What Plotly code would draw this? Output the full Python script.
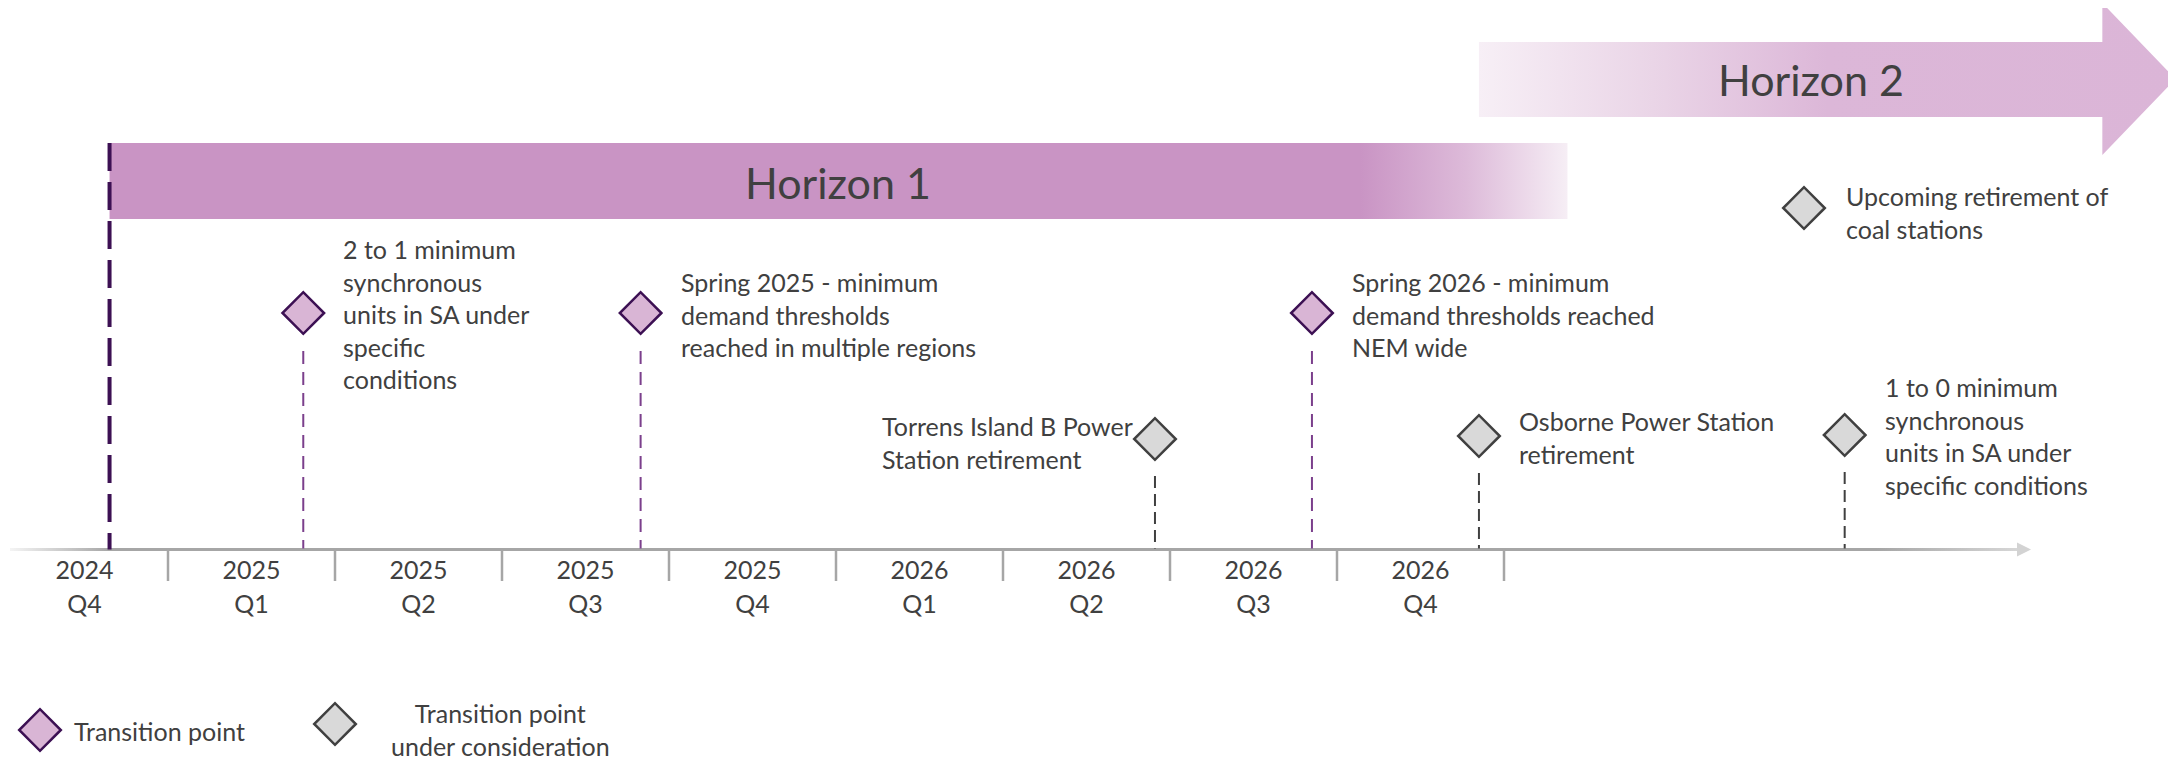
import plotly.graph_objects as go

# ---------------- data ----------------
quarter_years = ["2024", "2025", "2025", "2025", "2025", "2026", "2026", "2026", "2026"]
quarter_names = ["Q4", "Q1", "Q2", "Q3", "Q4", "Q1", "Q2", "Q3", "Q4"]

# event timing, in quarters counted from the start of 2024 Q4
event_pos = [1.81, 3.83, 6.91, 7.85, 8.85, 11.04]
event_kind = ["transition", "transition", "consideration", "transition", "consideration", "consideration"]
event_text = [
    "2 to 1 minimum<br>synchronous<br>units in SA under<br>specific<br>conditions",
    "Spring 2025 - minimum<br>demand thresholds<br>reached in multiple regions",
    "Torrens Island B Power<br>Station retirement",
    "Spring 2026 - minimum<br>demand thresholds reached<br>NEM wide",
    "Osborne Power Station<br>retirement",
    "1 to 0 minimum<br>synchronous<br>units in SA under<br>specific conditions",
]

horizon1_span = [0.65, 9.38]
horizon2_span = [8.85, 13.02]
horizon_labels = ["Horizon 1", "Horizon 2"]

legend_labels = ["Transition point", "Transition point<br>under consideration",
                 "Upcoming retirement of<br>coal stations"]

# ---------------- layout / style ----------------
PAGE_W, PAGE_H = 2176, 765
BODY = 8                      # default page body margin
W, H = PAGE_W - BODY, PAGE_H - BODY
PXQ = 167.0                   # pixels per quarter
X0 = 1.0                      # page pixel of quarter 0


def px2x(p):
    return (p - X0) / PXQ


FONT = "Lato, 'Open Sans', sans-serif"
TXT = "#404040"
PURPLE_FILL = "#D9B5D5"
PURPLE_EDGE = "#3C1053"
PURPLE_DASH = "#7B3F8C"
GREY_FILL = "#D9D9D9"
GREY_EDGE = "#404040"
AXIS_GREY = "#A6A6A6"
EV_SIZE = 25

AXIS_Y = 549.5
event_y = [313, 313, 439, 313, 436, 435]
text_side = ["right", "right", "left", "right", "right", "right"]

fig = go.Figure()

# Horizon 1 bar (solid with fade on right)
h1s, h1e = horizon1_span
fig.add_trace(go.Scatter(
    x=[h1s, h1e, h1e, h1s, h1s], y=[143, 143, 219, 219, 143],
    mode="lines", line=dict(width=0), fill="toself",
    fillgradient=dict(type="horizontal",
                      colorscale=[[0, "#C994C4"], [0.858, "#C994C4"], [0.93, "#DDBAD9"], [1, "#F6EEF5"]]),
    hoverinfo="skip"))

# Horizon 2 arrow
h2s, h2e = horizon2_span
body_end = h2e - 73 / PXQ
fig.add_trace(go.Scatter(
    x=[h2s, body_end, body_end, h2e, body_end, body_end, h2s, h2s],
    y=[42, 42, 3, 79, 155, 117, 117, 42],
    mode="lines", line=dict(width=0), fill="toself",
    fillgradient=dict(type="horizontal",
                      colorscale=[[0, "#F7EFF6"], [0.25, "#EAD5E7"], [0.5, "#DCB7D8"], [1, "#DBB5D7"]]),
    hoverinfo="skip"))

# timeline axis line with fading ends
ax_s, ax_e = px2x(10), px2x(2017)
fig.add_trace(go.Scatter(
    x=[ax_s, ax_e, ax_e, ax_s, ax_s],
    y=[AXIS_Y - 1.4, AXIS_Y - 1.4, AXIS_Y + 1.4, AXIS_Y + 1.4, AXIS_Y - 1.4],
    mode="lines", line=dict(width=0), fill="toself",
    fillgradient=dict(type="horizontal",
                      colorscale=[[0, "#F4F4F4"], [0.05, AXIS_GREY], [0.93, AXIS_GREY], [1, "#D6D6D6"]]),
    hoverinfo="skip"))
fig.add_trace(go.Scatter(
    x=[ax_e, px2x(2031), ax_e, ax_e], y=[AXIS_Y - 7, AXIS_Y, AXIS_Y + 7, AXIS_Y - 7],
    mode="lines", line=dict(width=0), fill="toself", fillcolor="#D3D3D3", hoverinfo="skip"))

# quarter boundary ticks
tx, ty = [], []
for k in range(1, len(quarter_names) + 1):
    tx += [k, k, None]
    ty += [AXIS_Y, 581, None]
fig.add_trace(go.Scatter(x=tx, y=ty, mode="lines",
                         line=dict(color=AXIS_GREY, width=2.5), hoverinfo="skip"))

# quarter labels
mids = [i + 0.5 for i in range(len(quarter_names))]
fig.add_trace(go.Scatter(x=mids, y=[573] * len(mids), mode="text", text=quarter_years,
                         textfont=dict(family=FONT, size=25, color=TXT), hoverinfo="skip"))
fig.add_trace(go.Scatter(x=mids, y=[607] * len(mids), mode="text", text=quarter_names,
                         textfont=dict(family=FONT, size=25, color=TXT), hoverinfo="skip"))

# Horizon 1 start marker
fig.add_trace(go.Scatter(x=[h1s, h1s], y=[143, AXIS_Y], mode="lines",
                         line=dict(color=PURPLE_EDGE, width=4, dash="28px,11px"), hoverinfo="skip"))

# event dashed stems
for p, k, yv in zip(event_pos, event_kind, event_y):
    if k == "transition":
        fig.add_trace(go.Scatter(x=[p, p], y=[yv + 38, AXIS_Y - 1], mode="lines",
                                 line=dict(color=PURPLE_DASH, width=2, dash="13px,8px"), hoverinfo="skip"))
    else:
        fig.add_trace(go.Scatter(x=[p, p], y=[yv + 37, AXIS_Y - 1], mode="lines",
                                 line=dict(color=GREY_EDGE, width=2, dash="12px,6px"), hoverinfo="skip"))

# diamonds
for kind, fillc, edge in [("transition", PURPLE_FILL, PURPLE_EDGE), ("consideration", GREY_FILL, GREY_EDGE)]:
    xs = [p for p, k in zip(event_pos, event_kind) if k == kind]
    ys = [y for y, k in zip(event_y, event_kind) if k == kind]
    fig.add_trace(go.Scatter(x=xs, y=ys, mode="markers",
                             marker=dict(symbol="diamond", size=32, color=fillc,
                                         line=dict(color=edge, width=2.5)),
                             hoverinfo="skip"))

# key markers
fig.add_trace(go.Scatter(x=[px2x(40)], y=[730], mode="markers",
                         marker=dict(symbol="diamond", size=32, color=PURPLE_FILL,
                                     line=dict(color=PURPLE_EDGE, width=2.5)), hoverinfo="skip"))
fig.add_trace(go.Scatter(x=[px2x(335), px2x(1804)], y=[724, 208], mode="markers",
                         marker=dict(symbol="diamond", size=32, color=GREY_FILL,
                                     line=dict(color=GREY_EDGE, width=2.5)), hoverinfo="skip"))

annotations = []
# horizon labels
annotations.append(dict(x=px2x(838), y=182, text=horizon_labels[0], showarrow=False,
                        font=dict(family=FONT, size=43, color=TXT), xanchor="center", yanchor="middle"))
annotations.append(dict(x=px2x(1811), y=79, text=horizon_labels[1], showarrow=False,
                        font=dict(family=FONT, size=43, color=TXT), xanchor="center", yanchor="middle"))

# event labels
for p, yv, t, side in zip(event_pos, event_y, event_text, text_side):
    if side == "right":
        annotations.append(dict(x=p, y=yv + 1, text=t, showarrow=False, xanchor="left", yanchor="middle",
                                xshift=38, align="left", font=dict(family=FONT, size=EV_SIZE, color=TXT)))
    else:
        annotations.append(dict(x=p, y=yv + 3, text=t, showarrow=False, xanchor="right", yanchor="middle",
                                xshift=-20, align="left", font=dict(family=FONT, size=EV_SIZE, color=TXT)))

# key labels
annotations.append(dict(x=px2x(72), y=731, text=legend_labels[0], showarrow=False, xanchor="left",
                        yanchor="middle", align="left", font=dict(family=FONT, size=EV_SIZE, color=TXT)))
annotations.append(dict(x=px2x(500), y=729, text=legend_labels[1], showarrow=False, xanchor="center",
                        yanchor="middle", align="center", font=dict(family=FONT, size=EV_SIZE, color=TXT)))
annotations.append(dict(x=px2x(1844), y=212, text=legend_labels[2], showarrow=False, xanchor="left",
                        yanchor="middle", align="left", font=dict(family=FONT, size=EV_SIZE, color=TXT)))

fig.update_layout(
    width=W, height=H,
    margin=dict(l=0, r=0, t=0, b=0),
    paper_bgcolor="white", plot_bgcolor="white",
    showlegend=False,
    hovermode=False,
    xaxis=dict(range=[px2x(BODY), px2x(BODY + W)], visible=False, fixedrange=True),
    yaxis=dict(range=[BODY + H, BODY], visible=False, fixedrange=True),
    annotations=annotations,
)

fig.write_html("out.html")
